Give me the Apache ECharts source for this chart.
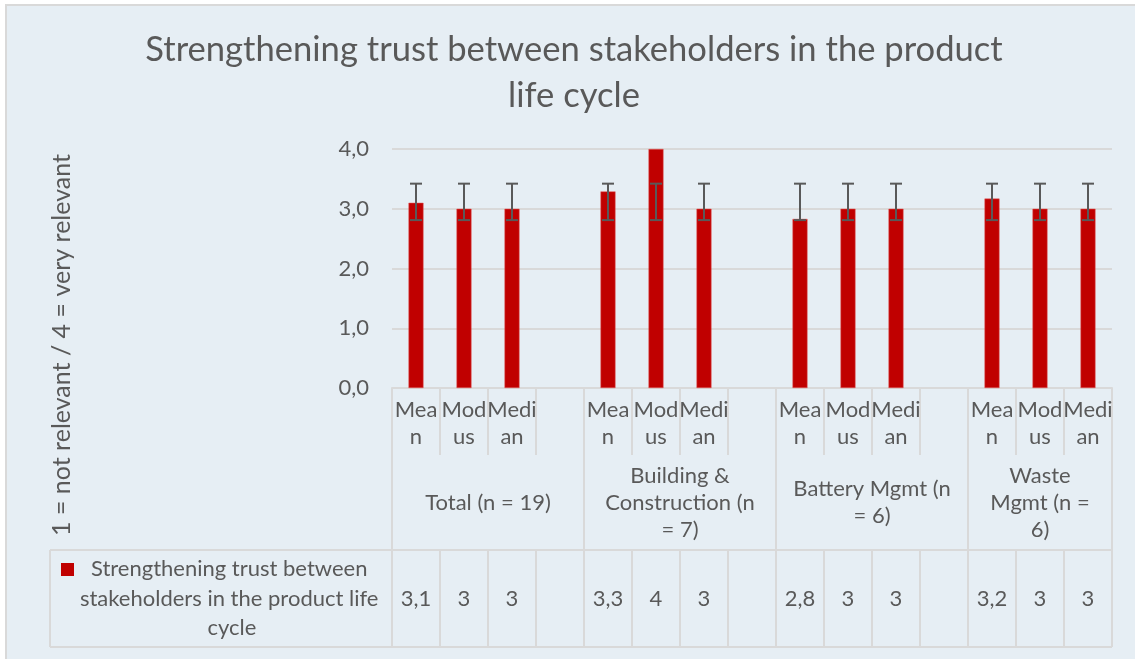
<!DOCTYPE html>
<html>
<head>
<meta charset="utf-8">
<script src="https://cdn.jsdelivr.net/npm/echarts@6/dist/echarts.min.js"></script>
<style>
  html, body { margin: 0; padding: 0; background: #fff; }
  #frame { position: absolute; left: 5px; top: 4px; width: 1140px; height: 670px; background: #e6eef4; border: 2px solid #d9d9d9; }
  #main { position: absolute; left: 0; top: 0; width: 1135px; height: 659px; }
</style>
</head>
<body>
<div id="frame"></div>
<div id="main"></div>
<script>
  // chart data
  const seriesName = 'Strengthening trust between stakeholders in the product life cycle'
  const categories = ['Mean', 'Modus', 'Median', '', 'Mean', 'Modus', 'Median', '', 'Mean', 'Modus', 'Median', '', 'Mean', 'Modus', 'Median']
  const values = [3.1, 3, 3, null, 3.29, 4, 3, null, 2.83, 3, 3, null, 3.17, 3, 3]
  const errLow = [2.81, 2.81, 2.81, null, 2.81, 2.81, 2.81, null, 2.81, 2.81, 2.81, null, 2.81, 2.81, 2.81]
  const errHigh = [3.42, 3.42, 3.42, null, 3.42, 3.42, 3.42, null, 3.42, 3.42, 3.42, null, 3.42, 3.42, 3.42]
  const groups = ['Total (n = 19)', 'Building &\nConstruction (n\n= 7)', 'Battery Mgmt (n\n= 6)', 'Waste\nMgmt (n =\n6)']
  const groupSizes = [4, 4, 4, 3]
  const yTicks = [0, 1, 2, 3, 4]
  // how the narrow table cells wrap the category names
  const wrapped = { Mean: 'Mea\nn', Modus: 'Mod\nus', Median: 'Medi\nan' }

  const textColor = '#595959'
  const lineColor = '#d9d9d9'
  const font = 'Lato'
  const fs = 22

  // group edges / centres in slot units for the table axis
  let groupEdges = [0]
  groupSizes.forEach(s => groupEdges.push(groupEdges[groupEdges.length - 1] + s))
  let groupCenters = groupSizes.map((s, i) => groupEdges[i] + s / 2)

  const fmt = v => v == null ? '' : String(Math.round(v * 10) / 10).replace('.', ',')

  // table geometry (pixels)
  const gridLeft = 392, gridRight = 23, gridTop = 149, gridBottom = 271
  const catRow = 67, groupRow = 95, dataRow = 97
  const tableLeft = 50
  const axisY = 659 - gridBottom
  const dataTop = axisY + catRow + groupRow
  const dataBottom = dataTop + dataRow
  const plotRight = 1135 - gridRight

  let errData = []
  values.forEach((v, i) => { if (errLow[i] != null) errData.push([i, errLow[i], errHigh[i]]) })

  let option = {
    animation: false,
    backgroundColor: 'transparent',
    textStyle: { fontFamily: font },
    grid: { left: gridLeft, right: gridRight, top: gridTop, bottom: gridBottom, outerBoundsMode: 'none' },
    xAxis: [
      {
        type: 'category',
        data: categories,
        axisLine: { lineStyle: { color: lineColor, width: 2 } },
        axisTick: { show: true, interval: 0, length: catRow, lineStyle: { color: lineColor, width: 2 } },
        axisLabel: {
          interval: 0, fontSize: fs, color: textColor, fontFamily: font,
          formatter: v => wrapped[v] || v,
          lineHeight: 27, margin: 8
        }
      },
      {
        type: 'value',
        min: 0,
        max: groupEdges[groupEdges.length - 1],
        offset: catRow,
        position: 'bottom',
        splitLine: { show: false },
        axisLine: { show: false },
        axisTick: { show: true, customValues: groupEdges, length: groupRow, lineStyle: { color: lineColor, width: 2 } },
        axisLabel: {
          customValues: groupCenters,
          formatter: v => groups[groupCenters.indexOf(v)] || '',
          fontSize: fs, color: textColor, fontFamily: font,
          lineHeight: 27, verticalAlign: 'middle', margin: groupRow / 2, align: 'center'
        }
      },
      {
        type: 'category',
        data: categories,
        offset: catRow + groupRow,
        position: 'bottom',
        axisLine: { lineStyle: { color: lineColor, width: 2 } },
        axisTick: { show: true, interval: 0, length: dataRow, lineStyle: { color: lineColor, width: 2 } },
        axisLabel: {
          interval: 0, fontSize: fs, color: textColor, fontFamily: font,
          formatter: (val, idx) => fmt(values[idx]),
          verticalAlign: 'middle', margin: dataRow / 2
        }
      }
    ],
    yAxis: {
      type: 'value',
      min: yTicks[0],
      max: yTicks[yTicks.length - 1],
      interval: 1,
      axisLine: { show: false },
      axisTick: { show: false },
      splitLine: { lineStyle: { color: lineColor, width: 2 } },
      axisLabel: {
        fontSize: fs, color: textColor, fontFamily: font, margin: 23,
        formatter: v => v.toFixed(1).replace('.', ',')
      }
    },
    series: [
      {
        name: seriesName,
        type: 'bar',
        xAxisIndex: 0,
        data: values,
        barWidth: 15,
        itemStyle: { color: '#c00000', borderColor: '#e05a5a', borderWidth: 0.5 }
      },
      {
        type: 'custom',
        xAxisIndex: 0,
        data: errData,
        encode: { x: 0, y: [1, 2] },
        z: 5,
        renderItem: function (params, api) {
          let x = api.value(0)
          let lo = api.coord([x, api.value(1)])
          let hi = api.coord([x, api.value(2)])
          let hw = 6
          let style = { stroke: '#595959', lineWidth: 2 }
          return {
            type: 'group',
            children: [
              { type: 'line', shape: { x1: hi[0], y1: hi[1], x2: lo[0], y2: lo[1] }, style: style },
              { type: 'line', shape: { x1: hi[0] - hw, y1: hi[1], x2: hi[0] + hw, y2: hi[1] }, style: style },
              { type: 'line', shape: { x1: lo[0] - hw, y1: lo[1], x2: lo[0] + hw, y2: lo[1] }, style: style }
            ]
          }
        }
      }
    ],
    graphic: [
      {
        type: 'text', x: 574, y: 27,
        style: {
          text: 'Strengthening trust between stakeholders in the product\nlife cycle',
          align: 'center', verticalAlign: 'top',
          fontFamily: font, fontSize: 34.6, lineHeight: 46, fill: textColor
        }
      },
      {
        type: 'text', x: 62, y: 345, rotation: Math.PI / 2,
        style: {
          text: '1 = not relevant / 4 = very relevant',
          align: 'center', verticalAlign: 'middle',
          fontFamily: font, fontSize: 25, fill: textColor
        }
      },
      // table frame pieces outside the axes
      { type: 'line', shape: { x1: tableLeft, y1: dataTop, x2: gridLeft, y2: dataTop }, style: { stroke: lineColor, lineWidth: 2 } },
      { type: 'line', shape: { x1: tableLeft, y1: dataBottom, x2: plotRight, y2: dataBottom }, style: { stroke: lineColor, lineWidth: 2 } },
      { type: 'line', shape: { x1: tableLeft, y1: dataTop, x2: tableLeft, y2: dataBottom }, style: { stroke: lineColor, lineWidth: 2 } },
      // legend key
      { type: 'rect', shape: { x: 61, y: 563, width: 13, height: 13 }, style: { fill: '#c00000' } },
      {
        type: 'text', x: 232, y: (dataTop + dataBottom) / 2,
        style: {
          text: seriesName, width: 330, overflow: 'break',
          align: 'center', verticalAlign: 'middle',
          fontFamily: font, fontSize: fs, lineHeight: 29.5, fill: textColor
        }
      }
    ]
  }

  let chart = echarts.init(document.getElementById('main'))
  chart.setOption(option)
  window.addEventListener('resize', chart.resize)
</script>
</body>
</html>
